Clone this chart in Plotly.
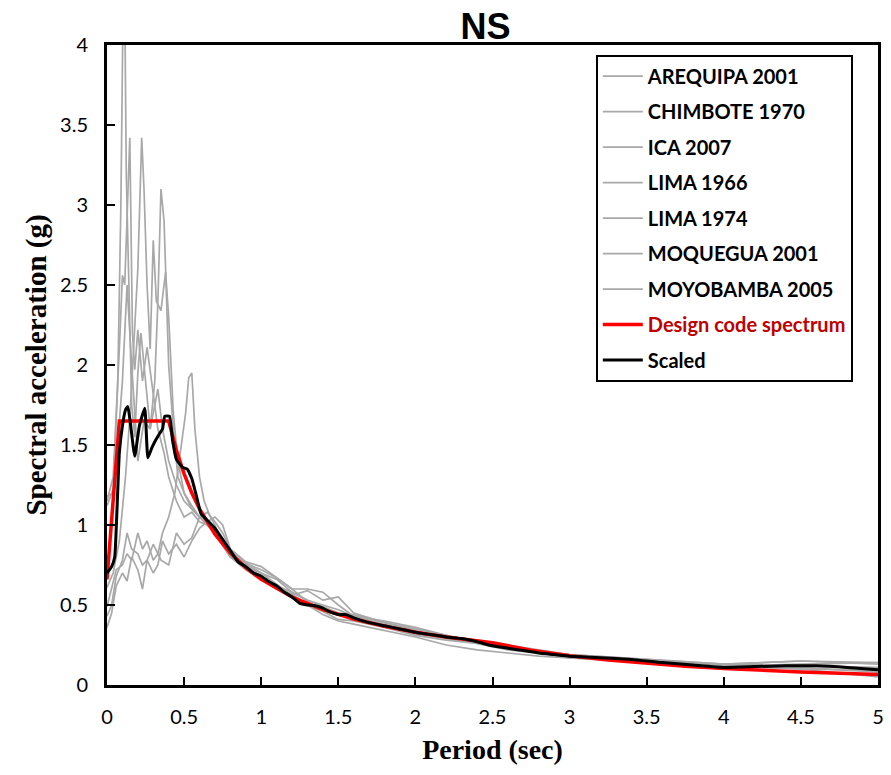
import plotly.graph_objects as go

# ---------------- data ----------------
names_gray = ["AREQUIPA 2001", "CHIMBOTE 1970", "ICA 2007", "LIMA 1966",
              "LIMA 1974", "MOQUEGUA 2001", "MOYOBAMBA 2005"]

tail_T = [0.8, 0.9, 1.0, 1.1, 1.2, 1.3, 1.4, 1.5, 1.6, 1.8, 2.0, 2.2, 2.4, 2.6, 2.8, 3.0, 3.5, 4.0, 4.5, 5.0]

arequipa_T = [0, 0.04, 0.07, 0.09, 0.105, 0.115, 0.125, 0.14, 0.16, 0.18, 0.2, 0.22, 0.25, 0.28, 0.3, 0.33,
              0.36, 0.4, 0.45, 0.5, 0.55, 0.6, 0.65, 0.7, 0.75] + tail_T
arequipa_V = [1.18, 1.2, 1.9, 3.0, 4.3, 4.3, 3.2, 2.5, 1.75, 1.55, 1.95, 2.2, 1.9, 1.6, 1.7, 1.85,
              1.6, 1.4, 1.25, 1.15, 1.1, 1.05, 1.02, 0.98, 0.9,
              0.82, 0.76, 0.7, 0.66, 0.58, 0.53, 0.5, 0.47, 0.43, 0.38, 0.33, 0.3, 0.28, 0.24, 0.21, 0.19, 0.16, 0.13, 0.12, 0.11]

chimbote_T = [0, 0.04, 0.08, 0.1, 0.115, 0.13, 0.148, 0.165, 0.18, 0.2, 0.23, 0.26, 0.3, 0.33, 0.37, 0.4,
              0.45, 0.5, 0.55, 0.6, 0.65, 0.7, 0.75] + tail_T
chimbote_V = [1.15, 1.3, 2.1, 2.56, 2.5, 2.9, 3.42, 2.2, 1.97, 2.22, 1.9, 2.11, 1.8, 1.6, 1.45, 1.3,
              1.15, 1.05, 1.08, 1.02, 1.0, 0.96, 0.88,
              0.8, 0.74, 0.7, 0.63, 0.56, 0.59, 0.53, 0.55, 0.45, 0.39, 0.35, 0.31, 0.27, 0.23, 0.2, 0.18, 0.15, 0.12, 0.13, 0.14]

ica_T = [0, 0.03, 0.06, 0.1, 0.13, 0.16, 0.2, 0.23, 0.26, 0.3, 0.33, 0.36, 0.4, 0.45, 0.5, 0.55,
         0.6, 0.65, 0.7, 0.75] + tail_T
ica_V = [0.36, 0.45, 0.62, 0.7, 0.65, 0.8, 0.72, 0.6, 0.78, 0.7, 0.75, 0.9, 0.82, 0.88, 0.8, 0.9,
         0.98, 1.02, 1.05, 1.0,
         0.85, 0.76, 0.72, 0.67, 0.6, 0.52, 0.47, 0.45, 0.44, 0.39, 0.34, 0.29, 0.26, 0.22, 0.2, 0.18, 0.15, 0.12, 0.1, 0.09]

lima66_T = [0, 0.04, 0.08, 0.12, 0.15, 0.18, 0.2, 0.225, 0.24, 0.26, 0.28, 0.3, 0.32, 0.35, 0.38, 0.4,
            0.43, 0.46, 0.5, 0.55, 0.6, 0.65, 0.7, 0.75] + tail_T
lima66_V = [0.61, 0.7, 0.9, 1.3, 1.7, 2.2, 2.6, 3.42, 3.1, 2.5, 2.1, 2.78, 2.4, 2.34, 2.58, 2.3,
            1.7, 1.4, 1.2, 1.1, 1.05, 1.0, 0.95, 0.88,
            0.8, 0.75, 0.68, 0.62, 0.58, 0.53, 0.49, 0.45, 0.41, 0.37, 0.32, 0.29, 0.27, 0.24, 0.21, 0.18, 0.15, 0.12, 0.11, 0.08]

lima74_T = [0, 0.05, 0.1, 0.13, 0.16, 0.2, 0.24, 0.28, 0.31, 0.33, 0.35, 0.37, 0.4, 0.43, 0.46, 0.5,
            0.55, 0.6, 0.65, 0.7, 0.75] + tail_T
lima74_V = [1.12, 1.25, 1.9, 2.5, 2.0, 1.4, 1.65, 1.6, 1.9, 2.4, 3.1, 2.9, 2.0, 1.6, 1.3, 1.2,
            1.12, 1.05, 1.0, 0.95, 0.87,
            0.8, 0.73, 0.67, 0.6, 0.55, 0.5, 0.46, 0.41, 0.4, 0.36, 0.31, 0.28, 0.26, 0.23, 0.2, 0.17, 0.15, 0.13, 0.15, 0.14]

moquegua_T = [0, 0.03, 0.06, 0.1, 0.13, 0.16, 0.2, 0.23, 0.26, 0.3, 0.35, 0.4, 0.45, 0.5, 0.55,
              0.6, 0.65, 0.7, 0.75] + tail_T
moquegua_V = [0.43, 0.5, 0.68, 0.78, 0.95, 0.85, 0.82, 0.75, 0.78, 0.88, 0.78, 0.75, 0.95, 0.88, 0.92,
              1.05, 1.08, 1.02, 0.95,
              0.85, 0.77, 0.74, 0.67, 0.6, 0.6, 0.58, 0.5, 0.43, 0.4, 0.36, 0.31, 0.27, 0.25, 0.22, 0.19, 0.16, 0.13, 0.15, 0.13]

moyobamba_T = [0, 0.03, 0.06, 0.1, 0.13, 0.16, 0.2, 0.23, 0.26, 0.3, 0.33, 0.36, 0.4, 0.44, 0.48,
               0.51, 0.53, 0.55, 0.57, 0.6, 0.63, 0.67, 0.7, 0.75] + tail_T
moyobamba_V = [0.49, 0.6, 0.72, 0.75, 0.82, 0.78, 0.95, 0.85, 0.9, 0.78, 0.82, 0.95, 1.05, 1.2, 1.5,
               1.7, 1.92, 1.95, 1.6, 1.3, 1.15, 1.05, 1.0, 0.88,
               0.8, 0.72, 0.66, 0.6, 0.57, 0.5, 0.44, 0.4, 0.38, 0.34, 0.3, 0.25, 0.22, 0.2, 0.18, 0.17, 0.14, 0.12, 0.1, 0.05]

gray_T = [arequipa_T, chimbote_T, ica_T, lima66_T, lima74_T, moquegua_T, moyobamba_T]
gray_V = [arequipa_V, chimbote_V, ica_V, lima66_V, lima74_V, moquegua_V, moyobamba_V]

design_T = [0, 0.08, 0.4, 0.45, 0.5, 0.55, 0.6, 0.7, 0.8, 0.9, 1.0, 1.2, 1.4, 1.6, 1.8, 2.0, 2.2, 2.5,
            2.75, 3.0, 3.25, 3.5, 3.75, 4.0, 4.25, 4.5, 4.75, 5.0]
design_V = [0.66, 1.65, 1.65, 1.467, 1.32, 1.2, 1.1, 0.943, 0.825, 0.733, 0.66, 0.55, 0.471, 0.4125, 0.367,
            0.33, 0.3, 0.264, 0.218, 0.183, 0.156, 0.135, 0.117, 0.103, 0.091, 0.081, 0.073, 0.066]

scaled_T = [0, 0.03, 0.05, 0.065, 0.08, 0.1, 0.12, 0.135, 0.15, 0.18, 0.21, 0.245, 0.265, 0.29, 0.31,
            0.34, 0.36, 0.375, 0.405, 0.425, 0.45, 0.49, 0.52, 0.55, 0.58, 0.61, 0.65, 0.7, 0.75, 0.8,
            0.85, 0.9, 0.95, 1.0, 1.05, 1.1, 1.15, 1.2, 1.25, 1.3, 1.35, 1.4, 1.45, 1.5, 1.55, 1.6, 1.7,
            1.8, 1.9, 2.0, 2.1, 2.2, 2.3, 2.4, 2.5, 2.6, 2.7, 2.8, 2.9, 3.0, 3.2, 3.4, 3.6, 3.8, 4.0,
            4.2, 4.4, 4.6, 4.8, 5.0]
scaled_V = [0.70, 0.74, 0.8, 1.1, 1.45, 1.62, 1.72, 1.74, 1.65, 1.43, 1.62, 1.73, 1.42, 1.48, 1.52,
            1.57, 1.6, 1.68, 1.68, 1.53, 1.41, 1.36, 1.35, 1.29, 1.18, 1.07, 1.03, 0.98, 0.91, 0.84,
            0.77, 0.74, 0.7, 0.68, 0.645, 0.62, 0.58, 0.55, 0.51, 0.5, 0.495, 0.48, 0.455, 0.44, 0.44,
            0.42, 0.39, 0.37, 0.35, 0.33, 0.315, 0.3, 0.29, 0.27, 0.245, 0.23, 0.215, 0.2, 0.19, 0.18,
            0.17, 0.16, 0.14, 0.125, 0.11, 0.115, 0.12, 0.12, 0.11, 0.095]

x_ticks = [0, 0.5, 1, 1.5, 2, 2.5, 3, 3.5, 4, 4.5, 5]
x_labels = ["0", "0.5", "1", "1.5", "2", "2.5", "3", "3.5", "4", "4.5", "5"]
y_ticks = [0, 0.5, 1, 1.5, 2, 2.5, 3, 3.5, 4]
y_labels = ["0", "0.5", "1", "1.5", "2", "2.5", "3", "3.5", "4"]

# ---------------- figure ----------------
fig = go.Figure()
for i, (nm, tt, vv) in enumerate(zip(names_gray, gray_T, gray_V)):
    fig.add_trace(go.Scatter(x=tt, y=vv, mode="lines", name=nm, legendgroup=f"g{i}",
                             line=dict(color="#A8A8A8", width=1.7)))
fig.add_trace(go.Scatter(x=design_T, y=design_V, mode="lines",
                         name="<span style='color:#C00000'>Design code spectrum</span>",
                         legendgroup="red", line=dict(color="#FF0000", width=3.5)))
fig.add_trace(go.Scatter(x=scaled_T, y=scaled_V, mode="lines", name="Scaled",
                         legendgroup="black", line=dict(color="#000000", width=3, shape="spline", smoothing=0.4)))

fig.update_layout(
    width=891, height=775,
    margin=dict(l=107, r=7, t=45, b=90),
    paper_bgcolor="white", plot_bgcolor="white",
    title=dict(text="<b>NS</b>", x=0.545, xanchor="center", y=0.982, yanchor="top",
               font=dict(family="Liberation Sans, Arial", size=36, color="black")),
    showlegend=True,
    legend=dict(x=0.634, y=0.985, xanchor="left", yanchor="top",
                bordercolor="black", borderwidth=2, bgcolor="white",
                font=dict(family="Lato", size=20, color="black", weight="bold"),
                traceorder="grouped", tracegroupgap=6.5, itemwidth=40),
    xaxis=dict(range=[0, 5], tickvals=x_ticks, ticktext=x_labels,
               showgrid=False, zeroline=False, showline=True, linecolor="black", linewidth=3,
               mirror=True, ticks="inside", ticklen=8, tickwidth=2, tickcolor="black",
               tickfont=dict(family="Lato", size=20, color="black"), ticklabelstandoff=12,
               title=dict(text="<b>Period (sec)</b>", standoff=13,
                          font=dict(family="Liberation Serif, Times New Roman", size=28, color="black"))),
    yaxis=dict(range=[0, 4], tickvals=y_ticks, ticktext=y_labels,
               showgrid=False, zeroline=False, showline=True, linecolor="black", linewidth=3,
               mirror=True, ticks="inside", ticklen=8, tickwidth=2, tickcolor="black",
               tickfont=dict(family="Lato", size=20, color="black"), ticklabelstandoff=12,
               title=dict(text="<b>Spectral acceleration (g)</b>", standoff=5,
                          font=dict(family="Liberation Serif, Times New Roman", size=29, color="black"))),
)

fig.write_html("out.html")
